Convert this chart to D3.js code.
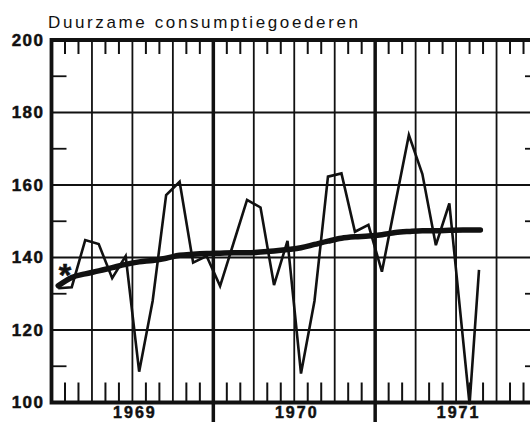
<!DOCTYPE html>
<html><head><meta charset="utf-8">
<script src="https://cdn.jsdelivr.net/npm/d3@7"></script>
<style>
html,body{margin:0;padding:0;background:#fff;}
svg{display:block;}
</style></head>
<body><svg id="c" width="530" height="422"></svg>
<script>
// ---- data ----
const title = "Duurzame consumptiegoederen";
const yearLabels = ["1969", "1970", "1971"];
const yTickValues = [100, 120, 140, 160, 180, 200];
// monthly index since Jan 1969 (0 = Jan 1969)
const seriesMonths = [0,1,2,3,4,5,6,7,8,9,10,11,12,13,14,15,16,17,18,19,20,21,22,23,24,25,26,27,28,29,30.5,31.2];
const seriesValues = [131.5,131.8,144.8,143.7,134.3,140.4,108.5,128,157.2,160.9,138.6,140.4,132.1,144,155.9,153.8,132.4,144.6,108.0,128,162.3,163.2,147.1,149.0,136.1,155,173.8,163,143.4,154.9,99.5,136.6];
const trendMonths = [0,1,2,3,4,5,6,7,8,9,10,11,12,13,14,15,16,17,18,19,20,21,22,23,24,25,26,27,28,29,30,31,31.3];
const trendValues = [132.2,134.5,135.5,136.3,137.2,138.1,138.8,139.2,139.8,140.6,140.9,141.1,141.2,141.3,141.3,141.5,141.8,142.2,142.7,143.6,144.5,145.3,145.7,145.9,146.3,146.9,147.2,147.4,147.4,147.5,147.6,147.6,147.6];

// ---- layout ----
const svg = d3.select("#c");
const L = 51.5, R = 540, T = 40, B = 402.5;
const x = d3.scaleLinear().domain([0, 36]).range([L, 537]);
const y = d3.scaleLinear().domain([100, 200]).range([B, T]);
const ink = "#111";

// horizontal grid
svg.append("g").selectAll("line").data([120,140,160,180]).join("line")
  .attr("x1", L).attr("x2", R).attr("y1", d => y(d)).attr("y2", d => y(d))
  .attr("stroke", ink).attr("stroke-width", 1.8);
// quarter grid
const quarters = d3.range(3, 36, 3).filter(m => m % 12 !== 0);
svg.append("g").selectAll("line").data(quarters).join("line")
  .attr("x1", d => x(d)).attr("x2", d => x(d)).attr("y1", T).attr("y2", B)
  .attr("stroke", ink).attr("stroke-width", 1.8);
// year lines
svg.append("g").selectAll("line").data([12, 24]).join("line")
  .attr("x1", d => x(d)).attr("x2", d => x(d)).attr("y1", T).attr("y2", 422)
  .attr("stroke", ink).attr("stroke-width", 3.5);
// month ticks
const monthTicks = d3.range(1, 36).filter(m => m % 3 !== 0);
svg.append("g").selectAll("line").data(monthTicks).join("line")
  .attr("x1", d => x(d)).attr("x2", d => x(d)).attr("y1", T).attr("y2", T + 14)
  .attr("stroke", ink).attr("stroke-width", 2);
svg.append("g").selectAll("line").data(monthTicks).join("line")
  .attr("x1", d => x(d)).attr("x2", d => x(d)).attr("y1", B - 20).attr("y2", B)
  .attr("stroke", ink).attr("stroke-width", 2);
// minor y ticks
const minorY = [110,130,150,170,190];
svg.append("g").selectAll("line").data(minorY).join("line")
  .attr("x1", L).attr("x2", L + 15).attr("y1", d => y(d)).attr("y2", d => y(d))
  .attr("stroke", ink).attr("stroke-width", 1.8);
svg.append("g").selectAll("line").data(minorY).join("line")
  .attr("x1", R - 15).attr("x2", R).attr("y1", d => y(d)).attr("y2", d => y(d))
  .attr("stroke", ink).attr("stroke-width", 1.8);

// frame
svg.append("path")
  .attr("d", `M${R},${T}H${L}V${B}H${R}`)
  .attr("fill", "none").attr("stroke", ink).attr("stroke-width", 3.8);

// y labels
const ya = svg.append("g").attr("transform", `translate(${L},0)`)
  .call(d3.axisLeft(y).tickValues(yTickValues).tickSize(0).tickPadding(7).tickFormat(d3.format("d")));
ya.select(".domain").remove();
ya.selectAll("text").attr("font-family", "Liberation Sans, Arial, sans-serif")
  .attr("font-weight", "bold").attr("font-size", 17).attr("letter-spacing", 1.5)
  .attr("fill", ink).attr("stroke", ink).attr("stroke-width", 0.5);

// year labels
const xa = svg.append("g").attr("transform", `translate(2,${B})`)
  .call(d3.axisBottom(x).tickValues([6, 18, 30]).tickSize(0).tickPadding(4)
    .tickFormat((d, i) => yearLabels[i]));
xa.select(".domain").remove();
xa.selectAll("text").attr("font-family", "Liberation Sans, Arial, sans-serif")
  .attr("font-weight", "bold").attr("font-size", 16).attr("letter-spacing", 2)
  .attr("fill", ink).attr("stroke", ink).attr("stroke-width", 0.5);

// title
svg.append("text").text(title)
  .attr("x", 48).attr("y", 28)
  .attr("font-family", "Liberation Sans, Arial, sans-serif")
  .attr("font-size", 17).attr("fill", ink)
  .attr("textLength", 310).attr("lengthAdjust", "spacing");

// trend line
const trendLine = d3.line().x(d => x(d[0] + 0.5)).y(d => y(d[1])).curve(d3.curveMonotoneX);
svg.append("path").datum(trendMonths.map((m, i) => [m, trendValues[i]]))
  .attr("d", trendLine).attr("fill", "none").attr("stroke", ink)
  .attr("stroke-width", 5.5).attr("stroke-linecap", "round");

// series line
const sLine = d3.line().x(d => x(d[0] + 0.5)).y(d => y(d[1]));
svg.append("path").datum(seriesMonths.map((m, i) => [m, seriesValues[i]]))
  .attr("d", sLine).attr("fill", "none").attr("stroke", ink)
  .attr("stroke-width", 2.6).attr("stroke-linejoin", "miter");

// asterisk
svg.append("text").text("*")
  .attr("x", 65).attr("y", 286).attr("text-anchor", "middle")
  .attr("font-family", "Liberation Sans, Arial, sans-serif")
  .attr("font-weight", "bold").attr("font-size", 32).attr("fill", ink)
  .attr("stroke", ink).attr("stroke-width", 0.6);
</script>
</body></html>
